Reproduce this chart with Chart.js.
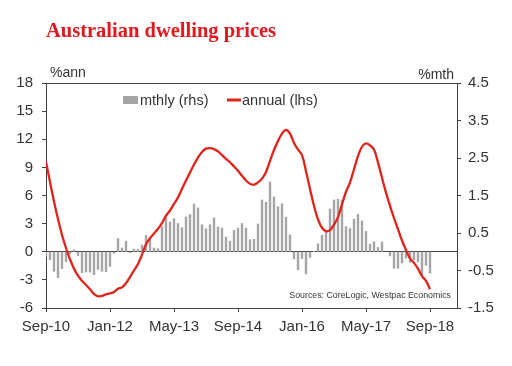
<!DOCTYPE html>
<html>
<head>
<meta charset="utf-8">
<script src="https://cdn.jsdelivr.net/npm/chart.js@4.4.1/dist/chart.umd.min.js"></script>
<style>
  html, body { margin: 0; padding: 0; background: #fff; }
  #wrap { width: 512px; height: 366px; position: relative; }
</style>
</head>
<body>
<div id="wrap"><canvas id="dwellingChart" width="512" height="366"></canvas></div>
<script>
  // Months Sep-10 .. Sep-18 (index 0 = Sep-10)
  const monthNames = ['Jan','Feb','Mar','Apr','May','Jun','Jul','Aug','Sep','Oct','Nov','Dec'];
  const months = [];
  for (let k = 8; k <= 8 + 96; k++) {
    months.push(monthNames[k % 12] + '-' + (10 + Math.floor(k / 12)));
  }

  // x-axis tick labels (every 16 months)
  const xTickLabels = ['Sep-10', 'Jan-12', 'May-13', 'Sep-14', 'Jan-16', 'May-17', 'Sep-18'];

  // Monthly change, %mth (rhs)
  const monthlyChange = [
    -0.13, -0.22, -0.53, -0.70, -0.46, -0.27, -0.07, 0.06, -0.11, -0.57,
    -0.55, -0.55, -0.62, -0.48, -0.53, -0.54, -0.40, -0.05, 0.36, 0.11,
    0.29, -0.03, 0.08, 0.07, 0.19, 0.44, 0.39, 0.11, 0.09, 0.68,
    0.93, 0.80, 0.89, 0.76, 0.65, 0.94, 1.00, 1.28, 1.18, 0.73,
    0.62, 0.73, 0.91, 0.67, 0.64, 0.40, 0.29, 0.58, 0.64, 0.76,
    0.64, 0.33, 0.34, 0.75, 1.39, 1.33, 1.87, 1.47, 1.21, 1.29,
    0.93, 0.46, -0.20, -0.49, -0.19, -0.60, -0.16, 0.02, 0.22, 0.45,
    0.56, 1.15, 1.39, 1.41, 1.38, 0.68, 0.63, 0.88, 1.01, 0.83,
    0.55, 0.21, 0.27, 0.12, 0.27, 0.00, -0.12, -0.45, -0.45, -0.31,
    -0.18, -0.29, -0.22, -0.28, -0.62, -0.37, -0.58
  ];

  // Annual change, %ann (lhs)
  const annualChange = [
    9.6, 7.45, 5.35, 3.5, 1.8, 0.4, -0.8, -1.8, -2.55, -3.1,
    -3.55, -4.0, -4.5, -4.75, -4.7, -4.55, -4.45, -4.3, -3.95, -3.8,
    -3.35, -2.7, -2.0, -1.3, -0.3, 0.8, 1.45, 1.95, 2.45, 3.05,
    3.85, 4.4, 5.1, 5.8, 6.7, 7.6, 8.45, 9.3, 10.05, 10.65,
    11.0, 11.05, 10.95, 10.7, 10.3, 9.9, 9.55, 9.1, 8.65, 8.1,
    7.6, 7.25, 7.15, 7.4, 7.8, 8.5, 9.7, 10.85, 11.8, 12.6,
    13.0, 12.6, 11.6, 10.9, 10.3, 8.6, 6.7, 4.9, 3.45, 2.56,
    2.2, 2.3, 2.9, 3.7, 5.05, 6.4, 7.4, 8.8, 10.2, 11.2,
    11.55, 11.35, 10.9, 9.5, 7.9, 6.3, 4.9, 3.6, 2.4, 1.2,
    0.2, -0.7, -1.2, -1.8, -2.6, -3.1, -4.0
  ];

  const axisColor = '#404040';
  const textColor = '#333333';
  const fontFamily = "'Liberation Sans', Arial, sans-serif";

  // Titles, legend and source note drawn on top of the chart
  const annotations = {
    id: 'annotations',
    afterDraw(chart) {
      const c = chart.ctx;
      c.save();
      c.fillStyle = '#e3171d';
      c.font = "bold 20.5px 'Liberation Serif', 'Times New Roman', serif";
      c.textBaseline = 'alphabetic';
      c.textAlign = 'left';
      c.fillText('Australian dwelling prices', 46, 36.5);

      c.fillStyle = textColor;
      c.font = '14px ' + fontFamily;
      c.fillText('%ann', 50, 77);
      c.textAlign = 'right';
      c.fillText('%mth', 454, 79);

      // legend
      c.textAlign = 'left';
      c.textBaseline = 'middle';
      c.font = '14.5px ' + fontFamily;
      c.fillStyle = '#a5a5a5';
      c.fillRect(123, 96, 15, 8);
      c.fillStyle = textColor;
      c.fillText('mthly (rhs)', 140, 101);
      c.strokeStyle = '#e2231a';
      c.lineWidth = 3;
      c.beginPath();
      c.moveTo(227, 100);
      c.lineTo(241, 100);
      c.stroke();
      c.fillText('annual (lhs)', 242, 101);

      c.textAlign = 'right';
      c.textBaseline = 'alphabetic';
      c.font = '8.8px ' + fontFamily;
      c.fillText('Sources: CoreLogic, Westpac Economics', 451, 298);
      c.restore();
    }
  };

  const ctx = document.getElementById('dwellingChart').getContext('2d');
  new Chart(ctx, {
    type: 'bar',
    data: {
      datasets: [
        {
          type: 'line',
          label: 'annual (lhs)',
          data: annualChange.map((v, i) => ({ x: i, y: v })),
          yAxisID: 'y',
          borderColor: '#e2231a',
          borderWidth: 2.3,
          pointRadius: 0,
          tension: 0.4,
          fill: false,
          order: 0
        },
        {
          type: 'bar',
          label: 'mthly (rhs)',
          data: monthlyChange.map((v, i) => ({ x: i, y: v })),
          yAxisID: 'y1',
          backgroundColor: '#a5a5a5',
          barPercentage: 0.6,
          categoryPercentage: 1,
          order: 1
        }
      ]
    },
    options: {
      responsive: false,
      animation: false,
      layout: { padding: { top: 83, left: 0, right: 0, bottom: 0 } },
      plugins: {
        legend: { display: false },
        tooltip: { enabled: false }
      },
      scales: {
        x: {
          type: 'linear',
          min: 0,
          max: 102.75,
          offset: false,
          grid: { offset: false, drawOnChartArea: false, tickLength: 4, color: axisColor },
          border: { color: axisColor, width: 1 },
          ticks: {
            stepSize: 16,
            includeBounds: false,
            autoSkip: false,
            maxRotation: 0,
            padding: 6,
            color: textColor,
            font: { size: 15, family: fontFamily },
            callback: function(value) {
              return xTickLabels[Math.round(value / 16)] || '';
            }
          },
          afterFit: function(scale) { scale.height = 58; }
        },
        y: {
          position: 'left',
          min: -6,
          max: 18,
          grid: {
            tickLength: 4,
            tickColor: axisColor,
            color: function(c) {
              return (c.tick && (c.tick.value === 0 || c.tick.value === 18)) ? axisColor : 'transparent';
            }
          },
          border: { color: axisColor, width: 1 },
          ticks: {
            stepSize: 3,
            padding: 9,
            color: textColor,
            font: { size: 15, family: fontFamily }
          },
          afterFit: function(scale) { scale.width = 46; }
        },
        y1: {
          position: 'right',
          min: -1.5,
          max: 4.5,
          grid: { drawOnChartArea: false, tickLength: 4, color: axisColor },
          border: { color: axisColor, width: 1 },
          ticks: {
            stepSize: 1,
            padding: 7,
            color: textColor,
            font: { size: 15, family: fontFamily },
            callback: function(value) { return value.toFixed(1); }
          },
          afterFit: function(scale) { scale.width = 55; }
        }
      }
    },
    plugins: [annotations]
  });
</script>
</body>
</html>
